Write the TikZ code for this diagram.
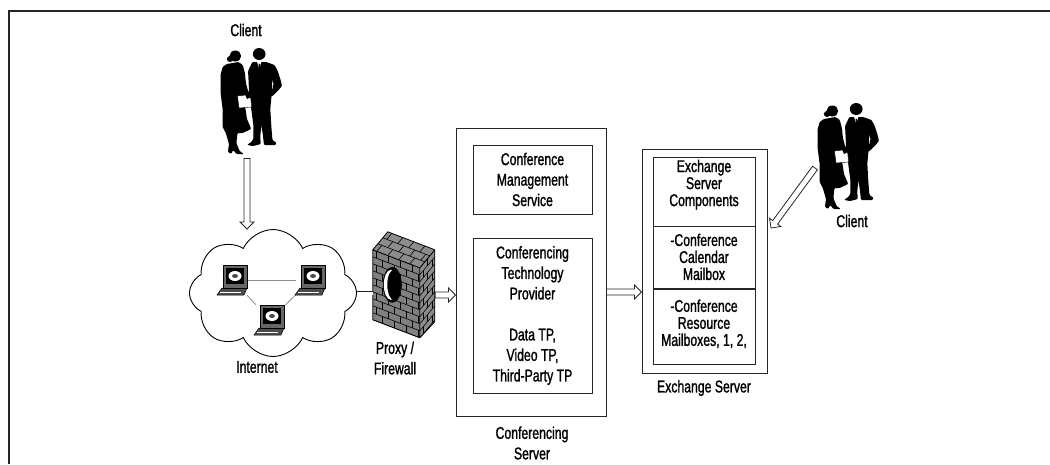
\documentclass[tikz,border=0pt]{standalone}
\usepackage{fontspec}
\setmainfont[FakeStretch=0.72, FakeBold=1.3]{Liberation Sans}
\usetikzlibrary{positioning,calc,shapes.symbols}

\tikzset{
    frame/.style = {draw=black!85, line width=1.6pt},
    box/.style = {draw=black!85, line width=0.9pt, rectangle, inner sep=0pt},
    lbl/.style = {font=\fontsize{17}{20.5}\selectfont, align=center, inner sep=0pt},
    exlbl/.style = {font=\fontsize{17}{17}\selectfont, align=center, inner sep=0pt},
    ghost/.style = {rectangle, inner sep=0pt},
    linkline/.style = {draw=black!45, line width=0.8pt},
    arrowline/.style = {draw=black!85, line width=0.8pt, fill=white, line join=miter},
    brick/.style = {black, line width=0.6pt},
    % two business people, origin at the top between them
    people/.pic = {
        \begin{scope}[xscale=1.06, shift={(-24,0)}]
        % woman
        \fill[black] (13,9) circle (5.5);
        \fill[black] (8,12) circle (3);
        \fill[black, rounded corners=1pt] (5,17) -- (16,15) -- (20,18) -- (22,26) -- (23,36) -- (25,44)
            -- (28,48) -- (27,52) -- (23,52) -- (22,58) -- (24,72) -- (28,82) -- (20,86) -- (15,86)
            -- (14,96) -- (17,104) -- (21,107) -- (14,107) -- (11,103) -- (9,107) -- (6,105) -- (7,97)
            -- (4,86) -- (1,80) -- (1,62) -- (-1,45) -- (-1,28) -- (1,20) -- cycle;
        % man
        \fill[black] (35.5,7) circle (6);
        \fill[black, rounded corners=1pt] (29,15) -- (42,15) -- (50,18) -- (53,24) -- (56,34) -- (57,39)
            -- (53,44) -- (47,50) -- (44,49) -- (48,42) -- (49,37) -- (48,32) -- (47,50) -- (46,62)
            -- (47,80) -- (48,93) -- (52,96) -- (51,98) -- (40,98) -- (39,88) -- (37.5,78) -- (36.5,90)
            -- (37,97) -- (30,99) -- (24,98) -- (28,95) -- (30,92) -- (30,78) -- (28,62) -- (26,45)
            -- (25,24) -- cycle;
        \fill[white] (33.5,15) -- (37.5,15) -- (35.5,22) -- cycle;
        \fill[black] (35,16.5) -- (36,16.5) -- (36.3,24) -- (35.5,26) -- (34.7,24) -- cycle;
        % folder
        \filldraw[fill=white, draw=black, line width=0.4pt] (15,49) -- (27,47.5) -- (28.5,60) -- (16.5,61) -- cycle;
        \fill[black] (22,47) -- (27,46) -- (28,50) -- (24,52) -- cycle;
        \end{scope}
    },
    % small laptop, origin at its centre
    laptop/.pic = {
        \filldraw[fill=black!70, draw=black, line width=0.5pt] (-16,15) -- (-11,8) -- (14,8) -- (11,15) -- cycle;
        \draw[white, line width=0.4pt] (-13,12) -- (8,12);
        \filldraw[fill=black!60, draw=black, line width=0.5pt] (-10,-15) rectangle (14,8);
        \fill[black] (-7,-12) rectangle (11,4);
        \fill[white] (2,-4) ellipse [x radius=6.5, y radius=5];
        \fill[black!70] (2,-4) ellipse [x radius=3, y radius=2];
    },
    % brick wall with a hole, origin at the top left
    brickwall/.pic = {
        % front face
        \begin{scope}
            \clip (0,18) -- (47,36) -- (47,106) -- (0,88) -- cycle;
            \fill[black!50] (0,0) rectangle (62,110);
            \foreach \k in {0,...,13} {
                \draw[brick] (0,{18+7*\k}) -- (47,{36+7*\k});
                \foreach \j in {0,...,4} {
                    \pgfmathsetmacro\xx{mod(\k,2)*6+3+\j*12}
                    \draw[brick] ({\xx},{18+7*\k+\xx*18/47}) -- ++(0,7);
                }
            }
        \end{scope}
        % side face
        \begin{scope}
            \clip (47,36) -- (62,18) -- (62,90) -- (47,106) -- cycle;
            \fill[black!45] (40,0) rectangle (62,110);
            \foreach \k in {0,...,13} {
                \draw[brick] (47,{36+7*\k}) -- (62,{18+7*\k});
                \pgfmathtruncatemacro\oddrow{mod(\k,2)}
                \ifnum\oddrow=0
                    \draw[brick] (54.5,{27+7*\k}) -- ++(0,7);
                \else
                    \draw[brick] (50,{32.4+7*\k}) -- ++(0,7);
                    \draw[brick] (59,{21.6+7*\k}) -- ++(0,7);
                \fi
            }
        \end{scope}
        % top face
        \begin{scope}
            \clip (0,18) -- (15,0) -- (62,18) -- (47,36) -- cycle;
            \fill[black!45] (0,0) rectangle (62,36);
            \foreach \t in {1,2} {
                \draw[brick] ({5*\t},{18-6*\t}) -- ({47+5*\t},{36-6*\t});
            }
            \foreach \t in {0,1,2} {
                \foreach \j in {0,...,4} {
                    \pgfmathsetmacro\xx{mod(\t,2)*6+4+\j*11}
                    \draw[brick] ({\xx+5*\t},{18-6*\t+\xx*18/47}) -- ++(5,-6);
                }
            }
        \end{scope}
        \draw[black, line width=0.8pt, line join=round] (0,18) -- (15,0) -- (62,18) -- (62,90) -- (47,106)
            -- (0,88) -- cycle (0,18) -- (47,36) -- (62,18) (47,36) -- (47,106);
        % hole
        \fill[black] (19.5,53) ellipse [x radius=9.5, y radius=18];
        \fill[white] (18,53) ellipse [x radius=7, y radius=15];
        \fill[black] (21,53) ellipse [x radius=6.5, y radius=15];
    },
}

% hollow block arrow from #1 to #2
\newcommand{\fatarrow}[2]{%
    \path ($(#2)!7pt!(#1)$) coordinate (arrhead);
    \draw[arrowline] ($(#1)!3pt!90:(#2)$) -- ($(arrhead)!3pt!-90:(#1)$) -- ($(arrhead)!7pt!-90:(#1)$)
        -- (#2) -- ($(arrhead)!7pt!90:(#1)$) -- ($(arrhead)!3pt!90:(#1)$) -- ($(#1)!3pt!-90:(#2)$) -- cycle;
}

\begin{document}
\begin{tikzpicture}[x=1pt, y=-1pt]
\useasboundingbox (0,0) rectangle (1050,464);
\draw[frame] (1050,11) -- (9,11) -- (9,464);

% clients
\node[ghost, minimum width=57, minimum height=111, anchor=north] (client1) at (247,47) {};
\pic at (client1.north) {people};
\node[lbl] at (246,30) {Client};

\node[ghost, minimum width=57, minimum height=106, anchor=north] (client2) at (844,102) {};
\pic at (client2.north) {people};
\node[lbl] at (852,221) {Client};

% internet
\node[cloud, cloud puffs=8, cloud puff arc=130, cloud ignores aspect, draw=black, line width=0.9pt,
      minimum width=167, minimum height=127, inner sep=0pt] (net) at (273,293) {};
\node[ghost, minimum width=30, minimum height=30] (lap1) at (233,280) {};
\node[ghost, minimum width=30, minimum height=30] (lap2) at (311,280) {};
\node[ghost, minimum width=30, minimum height=30] (lap3) at (270,320) {};
\draw[linkline] (lap1) -- (lap2);
\draw[linkline] (lap1) -- (lap3);
\draw[linkline] (lap2) -- (lap3);
\pic at (lap1) {laptop};
\pic at (lap2) {laptop};
\pic at (lap3) {laptop};
\node[lbl] at (257,367) {Internet};

% proxy
\node[ghost, minimum width=62, minimum height=106] (fw) at (404,285) {};
\pic at (fw.north west) {brickwall};
\node[lbl] at (395,358) {Proxy /\\Firewall};

% conferencing server
\node[box, minimum width=150, minimum height=288] (conf) at (531,272) {};
\node[box, lbl, minimum width=119, minimum height=69] (cms) at (532.5,179.5) {Conference\\Management\\Service};
\node[box, lbl, minimum width=119, minimum height=155] (ctp) at (532.5,315.5)
    {Conferencing\\Technology\\Provider\\[20.5pt]Data TP,\\Video TP,\\Third-Party TP};
\node[lbl] at (532,443) {Conferencing\\Server};

% exchange server
\node[box, minimum width=125, minimum height=224] (exch) at (704.5,261) {};
\node[box, minimum width=102, minimum height=69] (exc1) at (704,191.5) {};
\node[box, minimum width=102, minimum height=62, below=0pt of exc1] (exc2) {};
\node[box, minimum width=102, minimum height=75, below=0pt of exc2] (exc3) {};
\node[exlbl, below=3pt of exc1.north] {Exchange\\Server\\Components};
\node[exlbl, below=7pt of exc2.north] {-Conference\\Calendar\\Mailbox};
\node[exlbl, below=10pt of exc3.north] {-Conference\\Resource\\Mailboxes, 1, 2,};
\node[lbl] at (704,388) {Exchange Server};

% connectors
\coordinate (net-top) at (client1.south |- net.north);
\coordinate (fw-in) at (net.east -| fw.west);
\coordinate (fw-out) at ([yshift=-2pt]net.east -| fw.east);
\coordinate (cs-in) at (fw-out -| conf.west);
\coordinate (cs-out) at ([yshift=-20pt]conf.east);
\coordinate (ex-in) at (cs-out -| exch.west);
\coordinate (c2-tail) at (815,168);
\coordinate (c2-tip) at (771,228);
\fatarrow{client1.south}{net-top}
\draw[black!85, line width=0.8pt, double, double distance=3pt] (net.east) -- (fw-in);
\fatarrow{fw-out}{cs-in}
\fatarrow{cs-out}{ex-in}
\fatarrow{c2-tail}{c2-tip}
\end{tikzpicture}
\end{document}
